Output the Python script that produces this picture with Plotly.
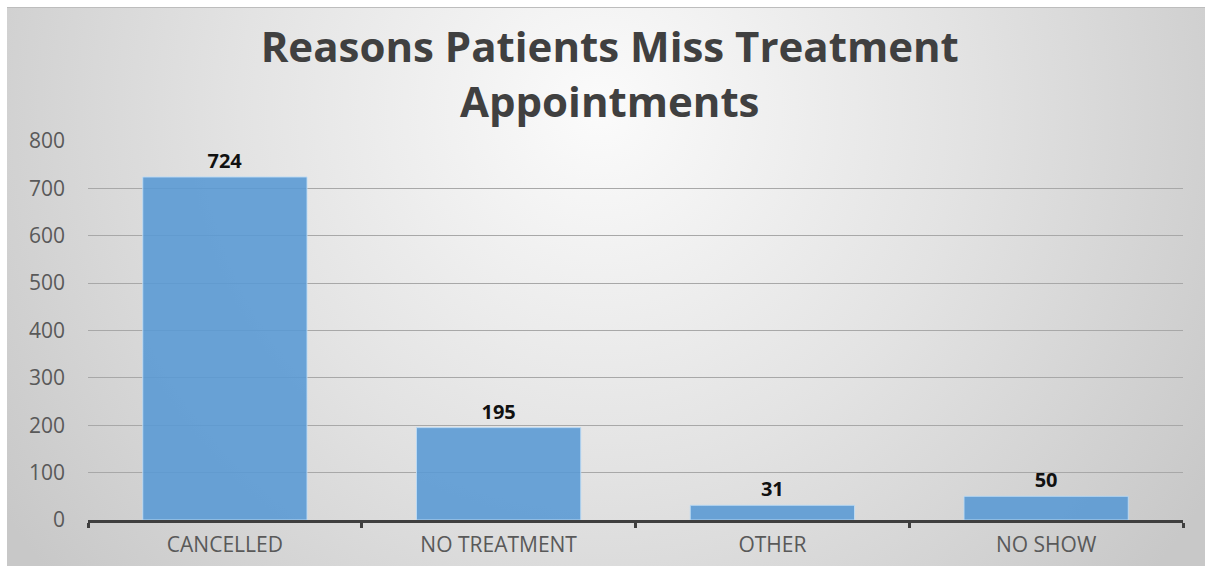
import plotly.graph_objects as go
import base64

categories = ["CANCELLED", "NO TREATMENT", "OTHER", "NO SHOW"]
values = [724, 195, 31, 50]
y_ticks = [0, 100, 200, 300, 400, 500, 600, 700, 800]
title_text = "Reasons Patients Miss Treatment<br>Appointments"

W, H = 1205, 569
ML, MR, MT, MB = 88, 22, 141, 49
PW, PH = W - ML - MR, H - MT - MB

svg = f'''<svg xmlns="http://www.w3.org/2000/svg" width="{W}" height="{H}" viewBox="0 0 {W} {H}" preserveAspectRatio="none">
<defs><radialGradient id="g" gradientUnits="userSpaceOnUse" cx="600" cy="110" r="720">
<stop offset="0%" stop-color="#fbfbfb"/><stop offset="50%" stop-color="#e3e3e3"/><stop offset="100%" stop-color="#c8c8c8"/>
</radialGradient></defs>
<rect x="0" y="0" width="{W}" height="{H}" fill="white"/>
<rect x="7" y="7" width="{W}" height="{H-10}" fill="url(#g)"/>
<line x1="7" y1="7.5" x2="{W}" y2="7.5" stroke="#bdbdbd" stroke-width="1"/>
</svg>'''
src = "data:image/svg+xml;base64," + base64.b64encode(svg.encode()).decode()

fig = go.Figure()
fig.add_trace(go.Bar(
    x=categories, y=values,
    marker=dict(color="rgba(88,152,212,0.88)", line=dict(color="rgba(190,220,245,0.9)", width=1)),
    text=[str(v) for v in values], textposition="outside",
    textfont=dict(family="Open Sans, Arial, sans-serif", size=20, color="#111111", weight="bold"),
    cliponaxis=False, width=0.6,
))

fig.update_layout(
    width=W, height=H,
    margin=dict(l=ML, r=MR, t=MT, b=MB),
    paper_bgcolor="white", plot_bgcolor="rgba(0,0,0,0)",
    images=[dict(source=src, xref="paper", yref="paper",
                 x=-ML / PW, y=1 + MT / PH, sizex=W / PW, sizey=H / PH,
                 xanchor="left", yanchor="top", sizing="stretch", layer="below")],
    title=dict(text=title_text, x=0.506, xanchor="center", y=1 - 62 / H, yanchor="middle",
               font=dict(family="Open Sans, Arial, sans-serif", size=42, color="#404040", weight="bold")),
    showlegend=False,
    bargap=0.4,
)
fig.update_xaxes(
    showgrid=False, showline=True, linecolor="#3f3f3f", linewidth=3,
    ticks="outside", tickson="boundaries", ticklen=5, tickwidth=3, tickcolor="#3f3f3f",
    tickfont=dict(family="Open Sans, Arial, sans-serif", size=21, color="#595959"),
    ticklabelstandoff=4,
    zeroline=False,
)
fig.update_yaxes(
    range=[0, 800], tickvals=y_ticks, showgrid=True, gridcolor="#a8a8a8", gridwidth=1,
    showline=False, zeroline=False, ticks="", ticklabelstandoff=22,
    tickfont=dict(family="Open Sans, Arial, sans-serif", size=21, color="#595959"),
)
fig.write_html("out.html")
